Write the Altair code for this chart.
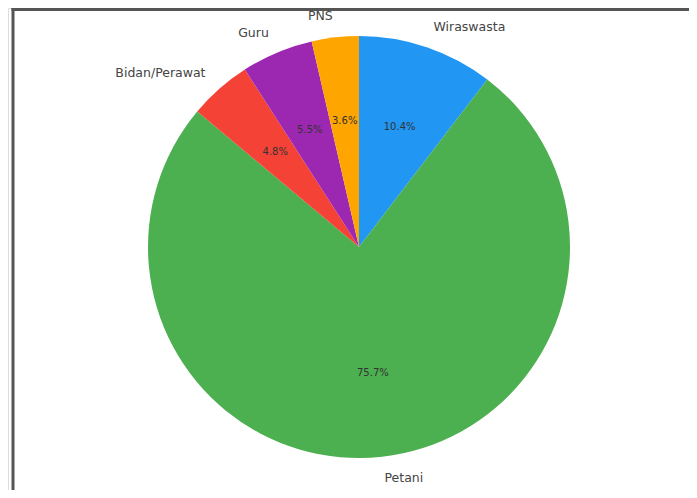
import math
import altair as alt
import pandas as pd

categories = ["Wiraswasta", "Petani", "Bidan/Perawat", "Guru", "PNS"]
values = [10.4, 75.7, 4.8, 5.5, 3.6]
colors = ["#2196F3", "#4CAF50", "#F44336", "#9C27B0", "#FFA500"]

df = pd.DataFrame({"cat": categories, "value": values, "order": list(range(len(categories)))})

W, H = 681, 482
CX, CY = 351, 239
R = 211

base = alt.Chart(df)

color = alt.Color("cat:N", scale=alt.Scale(domain=categories, range=colors), legend=None)

arc = base.mark_arc(radius=R, stroke=None).encode(
    theta=alt.Theta("value:Q", stack=True),
    order=alt.Order("order:Q"),
    color=color,
    x=alt.value(CX), y=alt.value(CY),
)

lab_base = base.transform_window(
    cum="sum(value)", sort=[alt.SortField("order")]
).transform_joinaggregate(total="sum(value)").transform_calculate(
    mid="(datum.cum - datum.value/2)/datum.total",
    pct="format(datum.value, '.1f') + '%'",
)

theta_mid = alt.Theta("mid:Q", stack=None, scale=alt.Scale(domain=[0, 1], range=[0, 2 * math.pi]))

pct = lab_base.mark_text(radius=R * 0.6, font="DejaVu Sans", fontSize=10, color="#333333",
                         align="center", baseline="middle").encode(
    theta=theta_mid, text=alt.Text("pct:N"), x=alt.value(CX), y=alt.value(CY))

lab_right = lab_base.transform_filter("datum.mid < 0.5").mark_text(
    radius=R * 1.1, font="DejaVu Sans", fontSize=12.5, color="#444444",
    align="left", baseline="middle").encode(
    theta=theta_mid, text="cat:N", x=alt.value(CX), y=alt.value(CY))

lab_left = lab_base.transform_filter("datum.mid >= 0.5").mark_text(
    radius=R * 1.1, font="DejaVu Sans", fontSize=12.5, color="#444444",
    align="right", baseline="middle").encode(
    theta=theta_mid, text="cat:N", x=alt.value(CX), y=alt.value(CY))

labels = alt.layer(pct, lab_right, lab_left)

border_left = alt.Chart(pd.DataFrame({"a": [0]})).mark_rule(color="#555555", strokeWidth=3).encode(
    x=alt.value(5), y=alt.value(0), y2=alt.value(H))
border_top = alt.Chart(pd.DataFrame({"a": [0]})).mark_rule(color="#555555", strokeWidth=3).encode(
    x=alt.value(3.5), x2=alt.value(W), y=alt.value(1.5))

chart = alt.layer(arc, labels, border_left, border_top).resolve_scale(theta="independent").properties(
    width=W, height=H, autosize=alt.AutoSizeParams(type="none"), padding=0
).configure_view(stroke=None).configure(background="white")

chart.save("out.html", embed_options={"renderer": "svg", "actions": False})
